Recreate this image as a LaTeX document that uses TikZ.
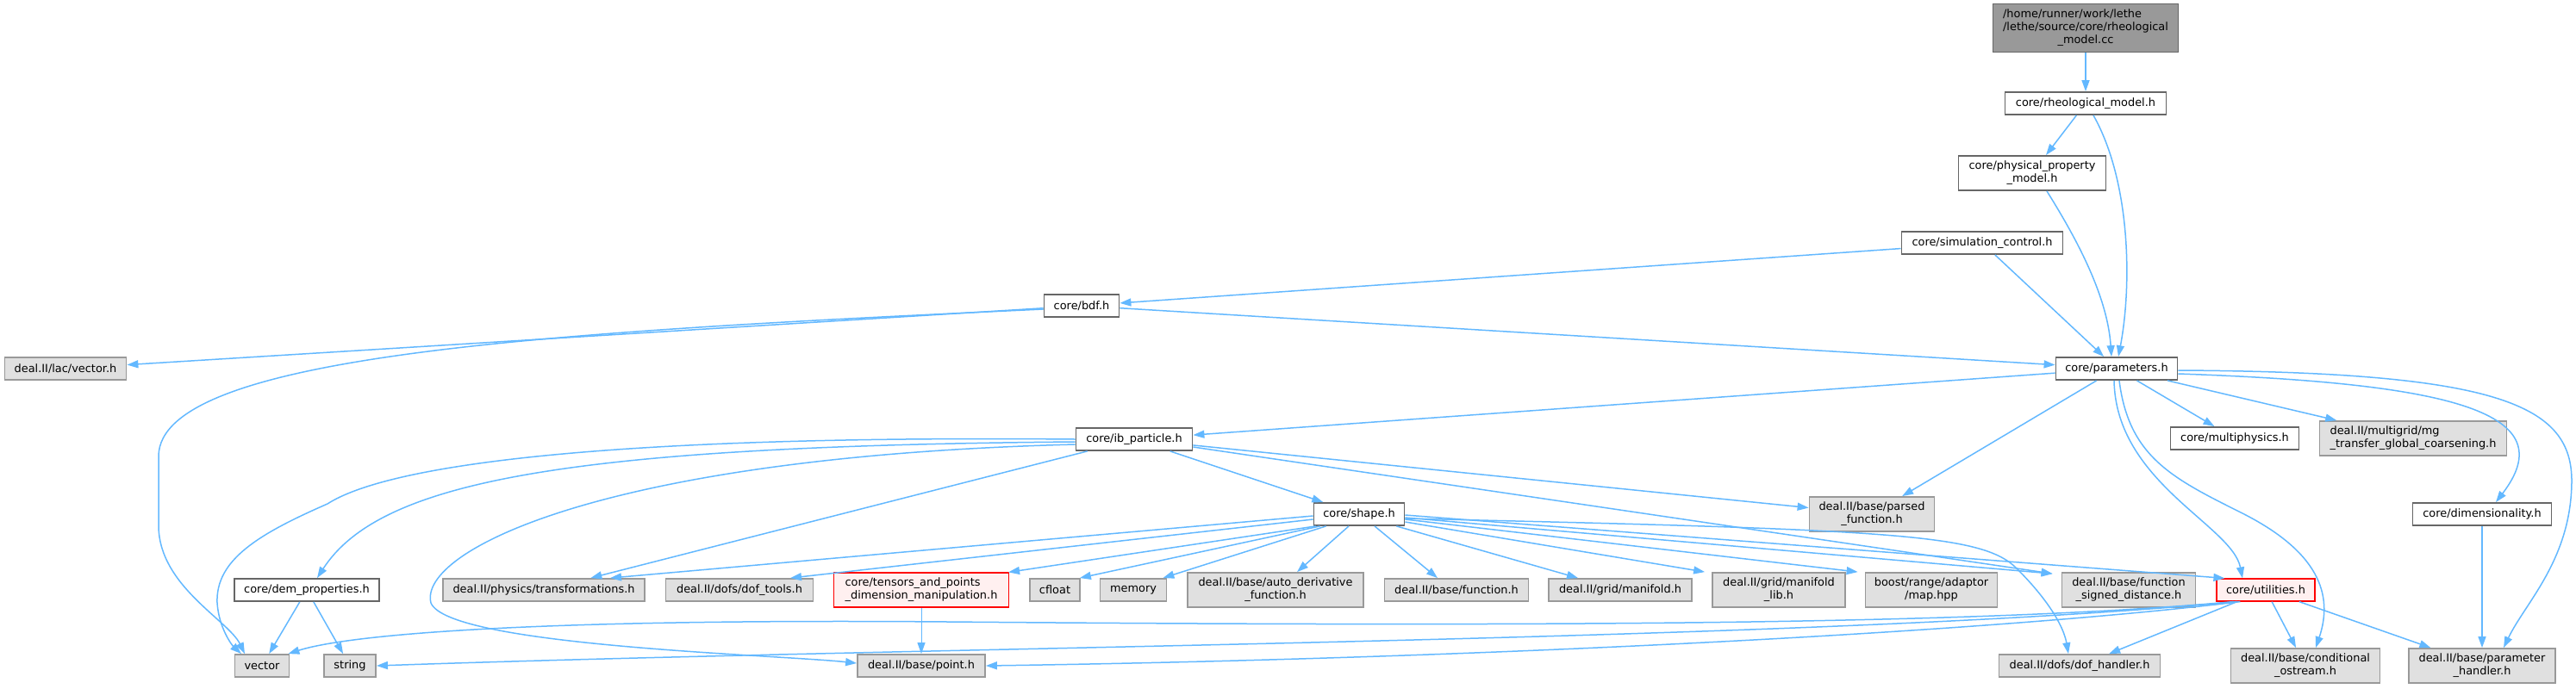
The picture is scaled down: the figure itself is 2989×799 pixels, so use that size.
\documentclass[tikz,border=0pt]{standalone}
\usepackage{fontspec}
\setmainfont{DejaVu Sans}
\usetikzlibrary{arrows.meta,calc}
\definecolor{edgec}{HTML}{63B8FF}
\definecolor{bordc}{HTML}{666666}
\definecolor{grayb}{HTML}{999999}
\definecolor{grayf}{HTML}{E0E0E0}
\definecolor{redf}{HTML}{FFF0F0}
\newcommand{\dxfont}{\fontsize{6.45}{7.5}\selectfont}
\newcommand{\twoline}[2]{\begin{tabular}{@{}l@{}}#1\\\multicolumn{1}{@{}c@{}}{#2}\end{tabular}}
\begin{document}
\begin{tikzpicture}[x=0.5pt,y=-0.5pt,
  box/.style={draw=bordc, fill=white, line width=0.9pt, inner sep=0pt, font=\dxfont, minimum height=13pt},
  ext/.style={box, draw=grayb, fill=grayf},
  redbox/.style={box, draw=red, fill=redf, line width=0.6pt},
  rootbox/.style={box, fill=grayb, draw=bordc},
  two/.style={minimum height=20pt},
  dep/.style={draw=edgec, line width=0.75pt, -{Triangle[length=6.5pt,width=4.5pt]}}]
\useasboundingbox (0,0) rectangle (2989,799);
% nodes
\node[rootbox, minimum width=107.5pt, minimum height=28pt] (root) at (2420,32.5)
  {\begin{tabular}{@{}l@{}}/home/runner/work/lethe\\/lethe/source/core/rheological\\\multicolumn{1}{@{}c@{}}{\_model.cc}\end{tabular}};
\node[box, minimum width=93.5pt] (rheo) at (2420,120) {core/rheological\_model.h};
\node[box, two, minimum width=85.5pt] (phys) at (2358,201) {\twoline{core/physical\_property}{\_model.h}};
\node[box, minimum width=93.5pt] (sim) at (2300,282) {core/simulation\_control.h};
\node[box, minimum width=43.5pt] (bdf) at (1255,355) {core/bdf.h};
\node[ext, minimum width=70.5pt] (lacvec) at (76,428) {deal.II/lac/vector.h};
\node[box, minimum width=70.5pt] (params) at (2456,428) {core/parameters.h};
\node[box, minimum width=67.5pt] (ib) at (1316,510) {core/ib\_particle.h};
\node[box, minimum width=74.5pt] (multi) at (2593,509) {core/multiphysics.h};
\node[ext, two, minimum width=108.5pt] (mg) at (2800,509) {\twoline{deal.II/multigrid/mg}{\_transfer\_global\_coarsening.h}};
\node[ext, two, minimum width=72.5pt] (parsed) at (2172,597) {\twoline{deal.II/base/parsed}{\_function.h}};
\node[box, minimum width=52.5pt] (shape) at (1577,597) {core/shape.h};
\node[box, minimum width=80.5pt] (dim) at (2880,597) {core/dimensionality.h};
\node[box, minimum width=84pt] (dem) at (356,685) {core/dem\_properties.h};
\node[ext, minimum width=117pt] (transf) at (631,685) {deal.II/physics/transformations.h};
\node[ext, minimum width=85.5pt] (doftools) at (858,685) {deal.II/dofs/dof\_tools.h};
\node[redbox, two, minimum width=101.5pt] (tensors) at (1069,685) {\twoline{core/tensors\_and\_points}{\_dimension\_manipulation.h}};
\node[ext, minimum width=29pt] (cfloat) at (1224,685) {cfloat};
\node[ext, minimum width=38.5pt] (memory) at (1315,685) {memory};
\node[ext, two, minimum width=102pt] (auto) at (1480,685) {\twoline{deal.II/base/auto\_derivative}{\_function.h}};
\node[ext, minimum width=83.5pt] (func) at (1690,685) {deal.II/base/function.h};
\node[ext, minimum width=83pt] (manifold) at (1880,685) {deal.II/grid/manifold.h};
\node[ext, two, minimum width=77pt] (mlib) at (2064,685) {\twoline{deal.II/grid/manifold}{\_lib.h}};
\node[ext, two, minimum width=76.5pt] (boost) at (2241,685) {\twoline{boost/range/adaptor}{/map.hpp}};
\node[ext, two, minimum width=77.5pt] (signed) at (2470,685) {\twoline{deal.II/base/function}{\_signed\_distance.h}};
\node[redbox, minimum width=57pt] (util) at (2629,685) {core/utilities.h};
\node[ext, minimum width=31.5pt] (vector) at (304,773) {vector};
\node[ext, minimum width=30pt] (string) at (406,773) {string};
\node[ext, minimum width=74pt] (point) at (1069,773) {deal.II/base/point.h};
\node[ext, minimum width=93.5pt] (dofh) at (2413,773) {deal.II/dofs/dof\_handler.h};
\node[ext, two, minimum width=86.5pt] (cond) at (2675,773) {\twoline{deal.II/base/conditional}{\_ostream.h}};
\node[ext, two, minimum width=85pt] (paramh) at (2880,773) {\twoline{deal.II/base/parameter}{\_handler.h}};
% edges
\draw[dep] (root) -- (rheo);
\draw[dep] (rheo) -- (phys);
\draw[dep] ($(rheo.south)+(9,0)$) .. controls (2472,210) and (2474,330) .. ($(params.north)+(2,0)$);
\draw[dep] ($(phys.south)+(17,0)$) .. controls (2405,270) and (2445,340) .. ($(params.north)+(-6,0)$);
\draw[dep] (sim) -- (params);
\draw[dep] (sim) -- (bdf);
\draw[dep] (bdf) -- (lacvec);
\draw[dep] (bdf) -- (params);
\draw[dep] ($(bdf.west)+(0,4)$) .. controls (650,385) and (184,410) .. (184,530) -- (184,610) .. controls (184,680) and (265,720) .. ($(vector.north)+(-20,0)$);
\draw[dep] (params) -- (ib);
\draw[dep] (params) -- (parsed);
\draw[dep] (params) -- (multi);
\draw[dep] (params) -- (mg);
\draw[dep] ($(params.south)+(-3,0)$) .. controls (2455,560) and (2590,610) .. ($(util.north)+(-27,0)$);
\draw[dep] ($(params.south)+(3,0)$) .. controls (2470,530) and (2520,555) .. (2600,595) .. controls (2690,640) and (2708,690) .. ($(cond.north)+(12,0)$);
\draw[dep] ($(params.east)+(0,6)$) .. controls (2850,445) and (2975,480) .. ($(dim.north)+(16,0)$);
\draw[dep] ($(params.east)+(0,2)$) .. controls (2900,432) and (2985,470) .. (2984,560) .. controls (2983,650) and (2930,700) .. ($(paramh.north)+(25,0)$);
% ib_particle
\draw[dep] (ib.west) .. controls (700,505) and (450,540) .. (380,585) .. controls (300,620) and (250,650) .. (252,700) .. controls (254,730) and (270,750) .. ($(vector.north)+(-24,0)$);
\draw[dep] ($(ib.west)+(0,3)$) .. controls (650,518) and (440,560) .. ($(dem.north)+(12,0)$);
\draw[dep] ($(ib.west)+(0,6)$) .. controls (700,530) and (485,640) .. (500,700) .. controls (520,750) and (900,760) .. ($(point.west)+(0,-3)$);
\draw[dep] (ib) -- (transf);
\draw[dep] (ib) -- (shape);
\draw[dep] (ib) -- (parsed);
\draw[dep] ($(ib.east)+(0,9)$) -- ($(signed.north west)+(-10,2)$);
% shape
\draw[dep] ($(shape.west)+(0,2)$) -- ($(transf.north)+(77,0)$);
\draw[dep] ($(shape.west)+(0,6)$) -- ($(doftools.north)+(59,0)$);
\draw[dep] ($(shape.south west)+(3,0)$) -- ($(tensors.north east)+(-1,0)$);
\draw[dep] ($(shape.south west)+(8,0)$) -- ($(cfloat.north east)+(-1,0)$);
\draw[dep] ($(shape.south west)+(15,0)$) -- ($(memory.north east)+(-5,0)$);
\draw[dep] ($(shape.south)+(-12,0)$) -- ($(auto.north)+(25,0)$);
\draw[dep] ($(shape.south)+(18,0)$) -- ($(func.north)+(-22,0)$);
\draw[dep] ($(shape.south east)+(-10,0)$) -- ($(manifold.north)+(-49,0)$);
\draw[dep] ($(shape.east)+(0,9)$) -- ($(mlib.north west)+(-8,0)$);
\draw[dep] ($(shape.east)+(0,6)$) -- ($(boost.north west)+(-8,0)$);
\draw[dep] ($(shape.east)+(0,4)$) -- ($(signed.north west)+(-10,2)$);
\draw[dep] ($(shape.east)+(0,1)$) -- ($(util.north west)+(10,0)$);
\draw[dep] ($(shape.east)+(0,5)$) .. controls (2200,615) and (2300,620) .. (2340,660) .. controls (2380,700) and (2395,730) .. ($(dofh.north)+(-13,0)$);
% others
\draw[dep, line width=0.5pt] (tensors) -- (point);
\draw[dep] (dem) -- (vector);
\draw[dep] (dem) -- (string);
\draw[dep] ($(util.south west)+(20,0)$) .. controls (2300,725) and (1800,728) .. (1100,722) .. controls (600,718) and (400,738) .. ($(vector.north east)+(-2,0)$);
\draw[dep] ($(util.south west)+(24,0)$) .. controls (2100,745) and (1100,750) .. (string.east);
\draw[dep] ($(util.south west)+(28,0)$) .. controls (2300,735) and (1700,765) .. (point.east);
\draw[dep] (util) -- (dofh);
\draw[dep] (util) -- (cond);
\draw[dep] (util) -- (paramh);
\draw[dep] (dim) -- (paramh);
\end{tikzpicture}
\end{document}
